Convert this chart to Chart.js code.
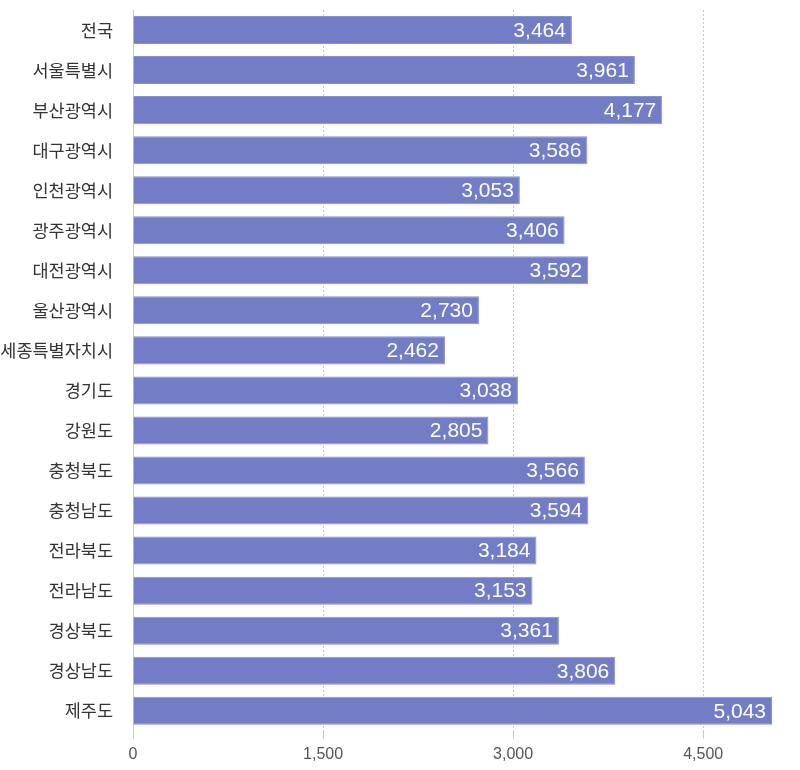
<!DOCTYPE html>
<html>
<head>
<meta charset="utf-8">
<script src="https://cdn.jsdelivr.net/npm/chart.js@4/dist/chart.umd.min.js"></script>
<style>
  body { margin: 0; background: #fff; }
  #wrap { width: 800px; height: 770px; }
</style>
</head>
<body>
<div id="wrap"><canvas id="chart"></canvas></div>
<script>
let regions = ["전국", "서울특별시", "부산광역시", "대구광역시", "인천광역시", "광주광역시", "대전광역시", "울산광역시", "세종특별자치시", "경기도", "강원도", "충청북도", "충청남도", "전라북도", "전라남도", "경상북도", "경상남도", "제주도"];
let values = [3464, 3961, 4177, 3586, 3053, 3406, 3592, 2730, 2462, 3038, 2805, 3566, 3594, 3184, 3153, 3361, 3806, 5043];
let xTicks = [0, 1500, 3000, 4500];

let fontKo = "'Noto Sans CJK KR', 'Liberation Sans', sans-serif";
let fontNum = "'Liberation Sans', Arial, sans-serif";

// value text inside the end of each bar
let barLabels = {
  id: "barLabels",
  afterDatasetsDraw(chart) {
    let ctx = chart.ctx;
    let meta = chart.getDatasetMeta(0);
    ctx.save();
    ctx.fillStyle = "#ffffff";
    ctx.font = "21px " + fontNum;
    ctx.textAlign = "right";
    ctx.textBaseline = "middle";
    for (let i = 0; i < meta.data.length; i++) {
      let bar = meta.data[i];
      ctx.fillText(values[i].toLocaleString("en-US"), bar.x - 6, bar.y + 1);
    }
    ctx.restore();
  }
};

new Chart(document.getElementById("chart"), {
  type: "bar",
  data: {
    labels: regions,
    datasets: [{
      data: values,
      backgroundColor: "#727dc6",
      borderColor: "#8790d0",
      borderWidth: 1,
      categoryPercentage: 0.7,
      barPercentage: 1
    }]
  },
  options: {
    indexAxis: "y",
    responsive: true,
    maintainAspectRatio: false,
    animation: false,
    layout: { padding: { top: 10, right: 28, bottom: 0, left: 0 } },
    plugins: { legend: { display: false }, tooltip: { enabled: false } },
    scales: {
      x: {
        min: 0,
        max: 5043,
        afterBuildTicks(axis) {
          axis.ticks = xTicks.map(v => ({ value: v }));
        },
        ticks: {
          color: "#555",
          font: { size: 16, family: fontNum },
          padding: 6,
          callback: v => v.toLocaleString("en-US")
        },
        grid: {
          color: "#c8c8c8",
          lineWidth: 1,
          tickLength: 8,
          drawTicks: true
        },
        border: { display: false, dash: [2, 2] }
      },
      y: {
        afterFit(axis) {
          axis.paddingTop = 0;
          axis.paddingBottom = 0;
          axis.width = 133;
        },
        ticks: {
          color: "#333",
          font: { size: 17.5, family: fontKo },
          padding: 20
        },
        grid: { display: false, drawTicks: false },
        border: { display: true, color: "#c8c8c8", width: 1 }
      }
    }
  },
  plugins: [barLabels]
});
</script>
</body>
</html>
